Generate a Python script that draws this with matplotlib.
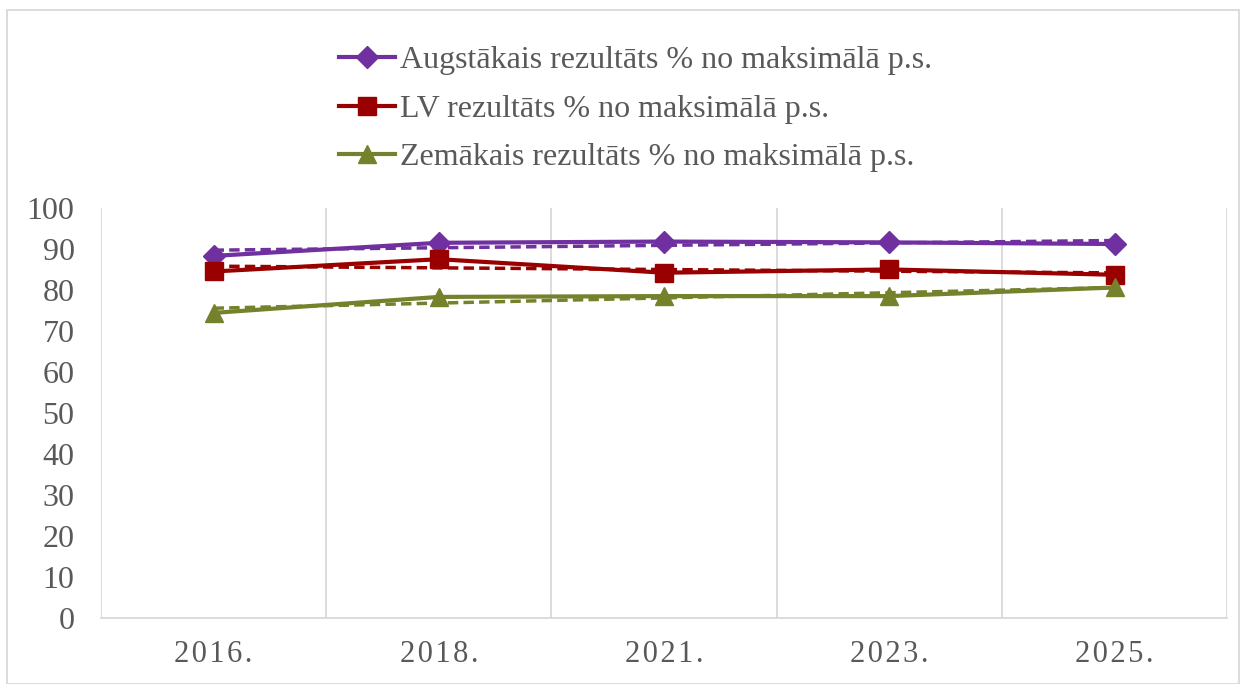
import numpy as np
import matplotlib.pyplot as plt
from matplotlib.patches import Rectangle

# ======= Data =======
years = ["2016.", "2018.", "2021.", "2023.", "2025."]
augstakais = [88.3, 91.5, 91.8, 91.6, 91.2]
lv = [84.5, 87.5, 84.2, 85.0, 83.7]
zemakais = [74.4, 78.3, 78.5, 78.5, 80.6]

labels = [
    "Augstākais rezultāts % no maksimālā p.s.",
    "LV rezultāts % no maksimālā p.s.",
    "Zemākais rezultāts % no maksimālā p.s.",
]
colors = ["#7030A0", "#990000", "#76812B"]
markers = ["D", "s", "^"]
msizes = [11.5, 13, 13]

plt.rcParams["font.family"] = ["Liberation Serif", "DejaVu Serif"]
text_color = "#595959"
grid_color = "#D9D9D9"

fig = plt.figure(figsize=(12.46, 6.84), dpi=100)
ax = fig.add_axes([0.081, 0.0965, 0.904, 0.5995])

x = np.arange(len(years))
for vals, lab, c, m, ms in zip([augstakais, lv, zemakais], labels, colors, markers, msizes):
    # linear trendline (dashed)
    k, b = np.polyfit(x, vals, 1)
    ax.plot(x, k * x + b, color=c, lw=2.5, ls=(0, (3, 1.5)), zorder=2)
    ax.plot(x, vals, color=c, lw=3, marker=m, markersize=ms, label=lab, zorder=3)

ax.set_xlim(-0.5, len(years) - 0.5)
ax.set_ylim(0, 100)
ax.set_yticks(range(0, 101, 10))
ax.set_xticks(x)
ax.set_xticklabels(["\u200a".join(y) for y in years])
ax.tick_params(length=0, labelsize=23, colors=text_color)
ax.tick_params(axis="x", labelsize=22, pad=16)
ax.tick_params(axis="y", pad=19)

for xv in np.arange(-0.5, len(years), 1.0):
    ax.axvline(xv, color=grid_color, lw=1.3, zorder=1)
for s in ["top", "left", "right"]:
    ax.spines[s].set_visible(False)
ax.spines["bottom"].set_color(grid_color)
ax.spines["bottom"].set_linewidth(1.3)

leg = fig.legend(loc="upper center", bbox_to_anchor=(0.51, 0.975), frameon=False,
                 fontsize=23, handlelength=1.75, handletextpad=0.15, labelspacing=0.6,
                 labelcolor=text_color)

# outer chart border
fig.patches.append(Rectangle((0.006, 0.0), 0.988, 0.985, transform=fig.transFigure,
                             fill=False, edgecolor=grid_color, lw=1.3))

plt.savefig("out.png", dpi=100)
plt.close()
